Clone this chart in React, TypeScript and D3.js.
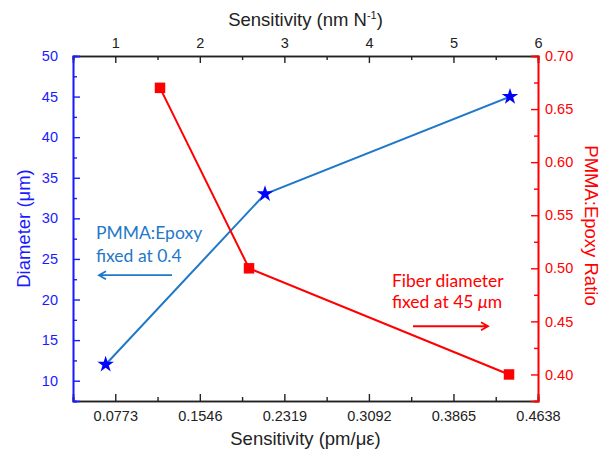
import React, { useRef, useEffect } from "react";
import * as d3 from "d3";

// Sensitivity (pm/µε) for each point, diameter / ratio values
const diameterSens = [0.0685, 0.2142, 0.4382];
const diameterVals = [12, 33, 45];
const ratioSens = [0.1182, 0.1996, 0.4373];
const ratioVals = [0.67, 0.5, 0.4];

const bottomTicks = [0.0773, 0.1546, 0.2319, 0.3092, 0.3865, 0.4638];
const topTicks = [1, 2, 3, 4, 5, 6];
const leftTicks = [10, 15, 20, 25, 30, 35, 40, 45, 50];
const rightTicks = [0.4, 0.45, 0.5, 0.55, 0.6, 0.65, 0.7];

const W = 601;
const H = 450;
const BLUE = "#1a1aff";
const LINE_BLUE = "#1f78c8";
const RED = "#ff0000";
const DARK = "#222";

const App = () => {
  const svgRef = useRef<SVGSVGElement>(null);

  useEffect(() => {
    const svg = d3.select(svgRef.current);
    svg.selectAll("*").remove();

    const m = { top: 56, right: 63, bottom: 49, left: 73 };
    const pw = W - m.left - m.right;
    const ph = H - m.top - m.bottom;

    const g = svg.append("g").attr("transform", `translate(${m.left},${m.top})`);

    const x = d3.scaleLinear().domain([0.03865, 0.4638]).range([0, pw]);
    const xTop = d3.scaleLinear().domain([0.5, 6]).range([0, pw]);
    const yL = d3.scaleLinear().domain([7.5, 50]).range([ph, 0]);
    const yR = d3.scaleLinear().domain([0.375, 0.7]).range([ph, 0]);

    const font = "'Liberation Sans', Arial, sans-serif";

    const style = (sel, color, size = 14.5) => {
      sel.select(".domain").attr("stroke", color).attr("stroke-width", 1.6);
      sel.selectAll(".tick line").attr("stroke", color).attr("stroke-width", 1.4);
      sel
        .selectAll(".tick text")
        .attr("fill", color)
        .attr("font-family", font)
        .attr("font-size", size);
    };

    // minor ticks
    const minorX = bottomTicks.map((t) => t - 0.03865);
    const minorTop = topTicks.map((t) => t - 0.5);
    const minorL = leftTicks.map((t) => t - 2.5);
    const minorR = rightTicks.map((t) => t - 0.025);

    // bottom
    const bottom = g.append("g").attr("transform", `translate(0,${ph})`);
    bottom
      .append("g")
      .call(d3.axisBottom(x).tickValues(minorX).tickSize(-4).tickFormat(() => ""))
      .call((s) => style(s, DARK));
    bottom
      .append("g")
      .call(
        d3.axisBottom(x).tickValues(bottomTicks).tickSize(-7).tickPadding(10).tickFormat(d3.format(".4f"))
      )
      .call((s) => style(s, DARK));

    // top
    const top = g.append("g");
    top
      .append("g")
      .call(d3.axisTop(xTop).tickValues(minorTop).tickSize(-4).tickFormat(() => ""))
      .call((s) => style(s, DARK));
    top
      .append("g")
      .call(d3.axisTop(xTop).tickValues(topTicks).tickSize(-7).tickPadding(8).tickFormat(d3.format("d")))
      .call((s) => style(s, DARK));

    // left
    const left = g.append("g");
    left
      .append("g")
      .call(d3.axisLeft(yL).tickValues(minorL).tickSize(-4).tickFormat(() => ""))
      .call((s) => style(s, BLUE));
    left
      .append("g")
      .call(d3.axisLeft(yL).tickValues(leftTicks).tickSize(-7).tickPadding(15).tickFormat(d3.format("d")))
      .call((s) => style(s, BLUE));

    // right
    const right = g.append("g").attr("transform", `translate(${pw},0)`);
    right
      .append("g")
      .call(d3.axisRight(yR).tickValues(minorR).tickSize(-4).tickFormat(() => ""))
      .call((s) => style(s, RED));
    right
      .append("g")
      .call(d3.axisRight(yR).tickValues(rightTicks).tickSize(-7).tickPadding(7).tickFormat(d3.format(".2f")))
      .call((s) => style(s, RED));

    // series lines
    const blueLine = d3
      .line<number>()
      .x((_, i) => x(diameterSens[i]))
      .y((d) => yL(d));
    g.append("path")
      .attr("d", blueLine(diameterVals))
      .attr("fill", "none")
      .attr("stroke", LINE_BLUE)
      .attr("stroke-width", 2);

    const redLine = d3
      .line<number>()
      .x((_, i) => x(ratioSens[i]))
      .y((d) => yR(d));
    g.append("path")
      .attr("d", redLine(ratioVals))
      .attr("fill", "none")
      .attr("stroke", RED)
      .attr("stroke-width", 2);

    // markers
    g.selectAll(".star")
      .data(diameterVals)
      .join("path")
      .attr("d", d3.symbol().type(d3.symbolStar).size(85)())
      .attr("transform", (d, i) => `translate(${x(diameterSens[i])},${yL(d)})`)
      .attr("fill", "#0000ff");

    g.selectAll(".sq")
      .data(ratioVals)
      .join("path")
      .attr("d", d3.symbol().type(d3.symbolSquare).size(110)())
      .attr("transform", (d, i) => `translate(${x(ratioSens[i])},${yR(d)})`)
      .attr("fill", RED);

    // annotations
    const noteFont = "Lato, 'Open Sans', sans-serif";
    const noteSize = 17.5;
    const arrow = (x1, x2, yy, color) => {
      const dir = x2 > x1 ? 1 : -1;
      g.append("path")
        .attr(
          "d",
          `M${x1},${yy}H${x2}M${x2 - dir * 7},${yy - 4}L${x2},${yy}L${x2 - dir * 7},${yy + 4}`
        )
        .attr("fill", "none")
        .attr("stroke", color)
        .attr("stroke-width", 1.8);
    };

    g.append("text")
      .attr("x", x(0.0597))
      .attr("y", yL(27.4))
      .attr("fill", LINE_BLUE)
      .attr("font-family", noteFont)
      .attr("font-size", noteSize)
      .text("PMMA:Epoxy");
    g.append("text")
      .attr("x", x(0.0597))
      .attr("y", yL(24.6))
      .attr("fill", LINE_BLUE)
      .attr("font-family", noteFont)
      .attr("font-size", noteSize)
      .text("fixed at 0.4");
    arrow(x(0.1292), x(0.0624), yL(23), LINE_BLUE);

    g.append("text")
      .attr("x", x(0.3303))
      .attr("y", yR(0.482))
      .attr("fill", RED)
      .attr("font-family", noteFont)
      .attr("font-size", noteSize)
      .text("Fiber diameter");
    const t2 = g
      .append("text")
      .attr("x", x(0.3303))
      .attr("y", yR(0.4623))
      .attr("fill", RED)
      .attr("font-family", noteFont)
      .attr("font-size", noteSize);
    t2.append("tspan").text("fixed at 45 ");
    t2.append("tspan").attr("font-style", "italic").text("μ");
    t2.append("tspan").text("m");
    arrow(x(0.3495), x(0.4181), yR(0.4454), RED);

    // axis titles
    svg
      .append("text")
      .attr("x", m.left + pw / 2)
      .attr("y", H - 5)
      .attr("text-anchor", "middle")
      .attr("font-family", font)
      .attr("font-size", 18.5)
      .attr("fill", DARK)
      .text("Sensitivity (pm/με)");

    const tt = svg
      .append("text")
      .attr("x", m.left + pw / 2)
      .attr("y", 26)
      .attr("text-anchor", "middle")
      .attr("font-family", font)
      .attr("font-size", 18.5)
      .attr("fill", DARK);
    tt.append("tspan").text("Sensitivity (nm N");
    tt.append("tspan").attr("font-size", 11).attr("dy", -7).text("-1");
    tt.append("tspan").attr("dy", 7).text(")");

    svg
      .append("text")
      .attr("transform", `translate(30,${m.top + ph / 2}) rotate(-90)`)
      .attr("text-anchor", "middle")
      .attr("font-family", font)
      .attr("font-size", 18.5)
      .attr("fill", BLUE)
      .text("Diameter (μm)");

    svg
      .append("text")
      .attr("transform", `translate(585,${m.top + ph / 2 - 3}) rotate(90)`)
      .attr("text-anchor", "middle")
      .attr("font-family", font)
      .attr("font-size", 18.5)
      .attr("fill", RED)
      .text("PMMA:Epoxy Ratio");
  }, []);

  return (
    <svg
      ref={svgRef}
      width={W}
      height={H}
      style={{ position: "absolute", left: 0, top: 0, background: "#fff" }}
    />
  );
};

export default App;
